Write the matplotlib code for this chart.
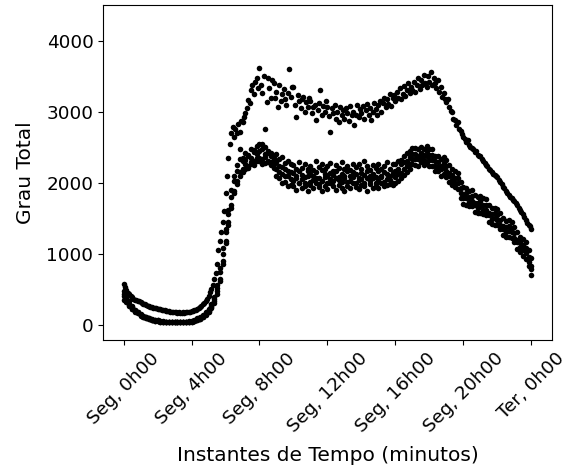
import numpy as np
import matplotlib
matplotlib.use('Agg')
import matplotlib.pyplot as plt

# instantes de tempo (minutos desde Seg, 0h00)
minutos_a = np.arange(0, 1441, 5)
minutos_b = np.arange(0, 1441, 10)

# serie superior (amostrada a cada 5 min)
grau_a = [
    580, 530, 490, 455, 430, 400, 385, 370, 355, 350, 335, 330,
    315, 310, 295, 290, 275, 270, 265, 255, 250, 240, 240, 235,
    230, 225, 220, 210, 210, 205, 200, 195, 190, 185, 185, 180,
    180, 175, 170, 175, 170, 165, 175, 170, 180, 175, 185, 180,
    190, 195, 205, 215, 225, 235, 250, 270, 290, 310, 330, 360,
    410, 460, 500, 560, 640, 730, 850, 1050, 1180, 1300, 1450, 1600,
    1850, 2100, 2350, 2550, 2700, 2790, 2640, 2760, 2700, 2830, 2720, 2870,
    2860, 2930, 2980, 3050, 3170, 3120, 3300, 3380, 3250, 3420, 3480, 3330,
    3620, 3380, 3270, 3500, 2750, 3130, 3480, 3340, 3200, 3450, 3410, 3200,
    3280, 3060, 3380, 3150, 3250, 3320, 3180, 3090, 3270, 3600, 3210, 3350,
    3350, 3100, 2930, 3240, 3150, 3050, 3180, 3210, 3000, 3140, 3070, 3200,
    3150, 2980, 3060, 3100, 2890, 3020, 3120, 3310, 2960, 3080, 3000, 3150,
    3060, 2940, 2720, 3050, 2980, 3100, 2900, 3000, 2850, 3060, 2960, 3020,
    2900, 3050, 2980, 2870, 3080, 2950, 3000, 2820, 2960, 3100, 2930, 3040,
    2980, 3080, 2900, 3020, 3110, 2960, 3050, 2880, 3000, 3120, 3040, 2950,
    3090, 3150, 3000, 3120, 3200, 3060, 3180, 3110, 3250, 3080, 3190, 3230,
    3150, 3280, 3200, 3330, 3180, 3250, 3360, 3220, 3300, 3400, 3260, 3350,
    3300, 3420, 3280, 3380, 3470, 3320, 3450, 3380, 3520, 3410, 3350, 3500,
    3420, 3560, 3380, 3470, 3400, 3330, 3450, 3280, 3350, 3210, 3270, 3180,
    3130, 3180, 3060, 3010, 2990, 2900, 2890, 2820, 2850, 2750, 2730, 2690,
    2650, 2620, 2580, 2600, 2530, 2510, 2490, 2470, 2430, 2440, 2390, 2380,
    2370, 2330, 2310, 2280, 2250, 2240, 2200, 2180, 2150, 2120, 2110, 2090,
    2080, 2040, 2010, 1980, 1940, 1920, 1880, 1860, 1830, 1800, 1790, 1760,
    1740, 1710, 1680, 1650, 1620, 1590, 1560, 1520, 1480, 1440, 1410, 1390,
    1350,
]

# faixa inferior: quatro series amostradas a cada 10 min
grau_b1 = [
    470, 380, 330, 260, 215, 185,
    150, 125, 110, 90, 80, 70,
    70, 55, 50, 45, 45, 40,
    40, 45, 40, 45, 45, 50,
    60, 70, 90, 115, 140, 185,
    220, 290, 390, 560, 800, 1080,
    1350, 1620, 1900, 2100, 2250, 2480,
    2350, 2420, 2390, 2480, 2460, 2520,
    2540, 2480, 2510, 2450, 2420, 2380,
    2400, 2330, 2360, 2280, 2300, 2260,
    2250, 2190, 2290, 2210, 2270, 2200,
    2240, 2180, 2300, 2220, 2260, 2190,
    2230, 2280, 2170, 2250, 2210, 2290,
    2200, 2240, 2180, 2270, 2220, 2260,
    2190, 2300, 2230, 2180, 2250, 2210,
    2270, 2200, 2240, 2290, 2190, 2260,
    2270, 2300, 2320, 2380, 2420, 2450,
    2490, 2490, 2480, 2510, 2470, 2520,
    2470, 2470, 2380, 2380, 2340, 2360,
    2320, 2250, 2190, 2160, 2140, 2010,
    1940, 1930, 1890, 1900, 1830, 1800,
    1820, 1780, 1770, 1690, 1640, 1650,
    1630, 1570, 1500, 1460, 1470, 1450,
    1380, 1310, 1240, 1210, 1160, 1050,
    940,
]
grau_b2 = [
    400, 330, 300, 230, 190, 175,
    135, 115, 95, 85, 70, 60,
    55, 45, 40, 35, 40, 35,
    35, 35, 40, 35, 40, 40,
    40, 55, 70, 85, 110, 150,
    190, 250, 330, 470, 650, 900,
    1180, 1450, 1680, 1880, 2020, 2150,
    2150, 2200, 2240, 2260, 2300, 2310,
    2300, 2330, 2280, 2290, 2250, 2210,
    2100, 2060, 1990, 2010, 1950, 1970,
    1960, 1900, 1990, 1930, 1950, 1890,
    1970, 1920, 2000, 1940, 1880, 1960,
    1910, 1990, 1950, 1900, 1970, 1930,
    1880, 1960, 1920, 1990, 1940, 1910,
    1970, 1950, 1890, 1980, 1930, 1960,
    1920, 1990, 1950, 1970, 1980, 1970,
    1990, 2020, 2070, 2110, 2150, 2190,
    2260, 2250, 2240, 2290, 2250, 2290,
    2230, 2240, 2160, 2160, 2100, 2130,
    2080, 2010, 1970, 1940, 1910, 1790,
    1700, 1690, 1670, 1670, 1590, 1580,
    1580, 1560, 1540, 1450, 1420, 1410,
    1400, 1350, 1260, 1240, 1230, 1220,
    1160, 1070, 1020, 970, 930, 830,
    700,
]
grau_b3 = [
    350, 360, 270, 245, 205, 160,
    145, 120, 105, 80, 75, 65,
    65, 50, 45, 40, 35, 40,
    40, 40, 45, 40, 45, 45,
    55, 60, 80, 100, 125, 170,
    210, 270, 360, 520, 740, 1000,
    1300, 1560, 1800, 2020, 2170, 2330,
    2300, 2260, 2380, 2350, 2430, 2400,
    2450, 2550, 2400, 2420, 2380, 2330,
    2290, 2240, 2220, 2200, 2170, 2150,
    2140, 2090, 2170, 2110, 2080, 2160,
    2130, 2100, 2150, 2070, 2180, 2120,
    2090, 2140, 2110, 2160, 2080, 2130,
    2100, 2170, 2090, 2150, 2120, 2070,
    2140, 2110, 2160, 2090, 2130, 2080,
    2170, 2100, 2150, 2120, 2090, 2140,
    2170, 2190, 2260, 2290, 2310, 2360,
    2410, 2410, 2370, 2420, 2390, 2440,
    2390, 2390, 2300, 2290, 2230, 2280,
    2240, 2140, 2110, 2070, 2060, 1930,
    1830, 1850, 1800, 1820, 1720, 1720,
    1740, 1690, 1690, 1580, 1560, 1570,
    1550, 1480, 1390, 1380, 1390, 1370,
    1290, 1200, 1160, 1130, 1080, 960,
    830,
]
grau_b4 = [
    430, 320, 280, 220, 185, 165,
    130, 110, 100, 90, 70, 60,
    50, 45, 40, 45, 40, 35,
    35, 40, 35, 40, 40, 45,
    45, 50, 65, 85, 110, 145,
    180, 240, 310, 430, 620, 860,
    1150, 1400, 1640, 1850, 1980, 2100,
    2200, 2320, 2210, 2290, 2250, 2350,
    2350, 2260, 2360, 2310, 2290, 2260,
    2190, 2150, 2130, 2090, 2100, 2050,
    2030, 2070, 2000, 2050, 1990, 2090,
    2010, 2040, 2060, 1980, 2030, 2080,
    2000, 2050, 2020, 2070, 2040, 2010,
    2060, 2010, 2030, 2080, 1990, 2040,
    2050, 2000, 2070, 2020, 2060, 1990,
    2030, 2080, 2010, 2050, 2040, 2000,
    2080, 2120, 2140, 2200, 2230, 2270,
    2340, 2340, 2330, 2350, 2320, 2370,
    2320, 2320, 2230, 2220, 2190, 2210,
    2170, 2100, 2040, 2000, 1990, 1860,
    1790, 1780, 1730, 1750, 1680, 1650,
    1670, 1620, 1620, 1540, 1490, 1500,
    1480, 1410, 1350, 1310, 1320, 1300,
    1220, 1160, 1090, 1060, 1010, 890,
    790,
]

posicoes_ticks = [0, 240, 480, 720, 960, 1200, 1440]
rotulos_ticks = ['Seg, 0h00', 'Seg, 4h00', 'Seg, 8h00', 'Seg, 12h00',
                 'Seg, 16h00', 'Seg, 20h00', 'Ter, 0h00']

fig = plt.figure(figsize=(5.7, 4.68), dpi=100)
ax = fig.add_axes([0.181, 0.274, 0.787, 0.715])

ax.scatter(minutos_a, grau_a, s=16, c='k', linewidths=0)
for serie in [grau_b1, grau_b2, grau_b3, grau_b4]:
    ax.scatter(minutos_b, serie, s=16, c='k', linewidths=0)

ax.set_xlim(-72, 1512)
ax.set_ylim(-210, 4500)
ax.set_yticks([0, 1000, 2000, 3000, 4000])
ax.set_xticks(posicoes_ticks)
ax.set_xticklabels(rotulos_ticks, rotation=45)
ax.tick_params(labelsize=13.2)

ax.set_xlabel('Instantes de Tempo (minutos)', fontsize=14.5, labelpad=7)
ax.set_ylabel('Grau Total', fontsize=14.5, labelpad=8)

fig.savefig('out.png', dpi=100)
